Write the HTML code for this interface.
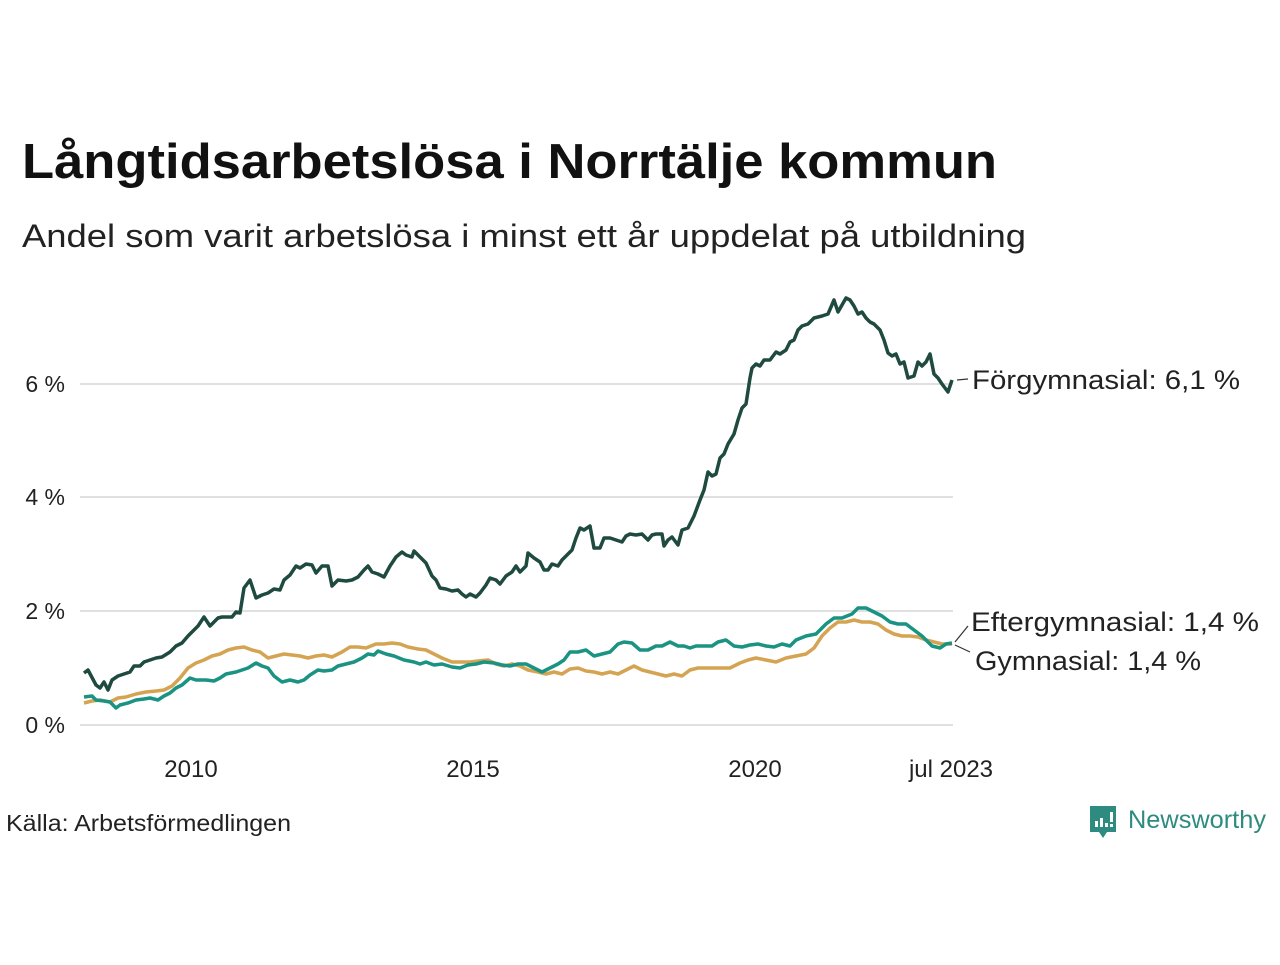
<!DOCTYPE html>
<html><head><meta charset="utf-8"><style>
body{margin:0;background:#fff;width:1280px;height:960px;overflow:hidden;font-family:"Liberation Sans",sans-serif;}
</style></head><body>
<svg width="1280" height="960" xmlns="http://www.w3.org/2000/svg" font-family="Liberation Sans, sans-serif">
<text x="22" y="178" font-size="49" font-weight="bold" fill="#111" textLength="975" lengthAdjust="spacingAndGlyphs">Långtidsarbetslösa i Norrtälje kommun</text>
<text x="22" y="247" font-size="32" fill="#222" textLength="1004" lengthAdjust="spacingAndGlyphs">Andel som varit arbetslösa i minst ett år uppdelat på utbildning</text>
<g stroke="#e0e0e0" stroke-width="2">
<line x1="80" y1="384" x2="953" y2="384"/><line x1="80" y1="497" x2="953" y2="497"/>
<line x1="80" y1="611" x2="953" y2="611"/><line x1="80" y1="725" x2="953" y2="725"/>
</g>
<g font-size="23" fill="#222" text-anchor="end">
<text x="65" y="392">6 %</text><text x="65" y="505">4 %</text><text x="65" y="619">2 %</text><text x="65" y="733">0 %</text>
</g>
<g font-size="24" fill="#222" text-anchor="middle">
<text x="191" y="777">2010</text><text x="473" y="777">2015</text><text x="755" y="777">2020</text><text x="951" y="777">jul 2023</text>
</g>
<g fill="none" stroke-width="3.5" stroke-linejoin="round">
<polyline stroke="#d4a452" points="84,703 92,701 100,700 110,702 118,698 126,697 136,694 146,692 156,691 164,690 172,686 180,678 188,668 196,663 204,660 212,656 220,654 228,650 236,648 244,647 252,650 260,652 268,658 276,656 284,654 292,655 300,656 308,658 316,656 324,655 332,657 342,652 350,647 358,647 366,648 376,644 384,644 392,643 400,644 408,647 418,649 426,650 434,654 442,658 452,662 462,662 470,662 478,661 488,660 496,664 504,666 512,664 520,666 528,670 538,672 546,674 554,672 562,674 570,669 578,668 586,671 594,672 602,674 610,672 618,674 626,670 634,666 642,670 650,672 658,674 666,676 674,674 682,676 690,670 698,668 706,668 714,668 722,668 730,668 740,663 748,660 756,658 766,660 776,662 786,658 796,656 806,654 814,648 822,636 830,628 838,622 846,622 854,620 862,622 870,622 878,624 886,630 894,634 902,636 910,636 918,637 926,640 934,642 942,644 952,644"/>
<polyline stroke="#1a9383" points="84,697 92,696 96,700 104,701 110,702 116,708 120,705 128,703 136,700 144,699 150,698 158,700 164,696 170,693 176,688 182,685 190,678 196,680 206,680 214,681 220,678 226,674 236,672 242,670 248,668 256,663 262,666 268,668 274,676 282,682 290,680 298,682 304,680 310,675 318,670 324,671 332,670 338,666 346,664 354,662 362,658 368,654 374,655 378,651 386,654 394,656 404,660 414,662 420,664 426,662 434,665 442,664 452,667 460,668 468,665 476,664 484,662 494,663 502,665 510,666 518,664 526,664 534,668 542,672 550,668 558,664 564,660 570,652 578,652 586,650 594,656 602,654 610,652 618,644 624,642 632,643 640,650 648,650 656,646 662,646 670,642 678,646 684,646 690,648 696,646 704,646 712,646 718,642 726,640 734,646 742,647 750,645 758,644 766,646 774,647 782,644 790,646 796,640 806,636 816,634 826,624 834,618 842,618 852,614 858,608 866,608 874,612 882,616 890,622 898,624 906,624 914,630 922,636 932,646 940,648 946,644 952,643"/>
<polyline stroke="#1f4a3f" points="84,673 88,670 96,685 100,688 104,682 108,690 112,680 118,676 124,674 130,672 134,666 140,666 144,662 150,660 156,658 162,657 170,652 176,646 182,643 188,636 192,632 198,626 204,617 210,626 214,622 218,618 222,617 232,617 236,612 240,613 244,588 250,580 256,598 262,595 268,593 274,589 280,590 284,580 290,575 296,566 300,568 306,564 312,565 316,573 322,566 328,566 332,586 338,580 346,581 352,580 358,577 364,570 368,566 372,572 378,574 384,577 390,566 396,557 402,552 406,555 412,557 414,551 420,557 426,563 432,576 436,580 440,588 446,589 452,591 458,590 462,594 466,597 470,594 476,597 480,593 486,585 490,578 496,580 500,584 506,576 512,572 516,566 520,572 526,566 528,553 534,558 540,562 544,570 548,570 552,564 558,566 562,560 566,556 572,550 576,538 580,528 584,530 590,526 594,548 600,548 604,538 610,538 616,540 622,542 626,536 630,534 636,535 642,534 648,540 652,535 656,534 662,534 664,546 668,540 672,537 678,545 682,530 688,528 694,516 700,500 704,490 708,472 712,476 716,474 720,458 724,454 728,444 734,434 738,420 742,408 746,404 750,378 752,368 756,364 760,366 764,360 770,360 776,352 780,354 786,350 790,342 794,340 798,330 802,326 808,324 814,318 822,316 828,314 834,300 838,312 842,305 846,298 850,300 854,306 858,314 862,312 866,318 870,322 874,324 880,330 884,340 888,353 892,356 896,354 900,364 904,362 908,378 914,376 918,362 922,366 926,362 930,354 934,374 938,378 942,384 948,392 952,380"/>
</g>
<g stroke="#333" stroke-width="1.2">
<line x1="957" y1="380" x2="968" y2="379"/>
<line x1="955" y1="642" x2="968" y2="626"/>
<line x1="955" y1="645" x2="970" y2="652"/>
</g>
<g font-size="27" fill="#222">
<text x="972" y="389" textLength="268" lengthAdjust="spacingAndGlyphs">Förgymnasial: 6,1 %</text>
<text x="971" y="631" textLength="288" lengthAdjust="spacingAndGlyphs">Eftergymnasial: 1,4 %</text>
<text x="975" y="670" textLength="226" lengthAdjust="spacingAndGlyphs">Gymnasial: 1,4 %</text>
</g>
<text x="6" y="831" font-size="23" fill="#222" textLength="285" lengthAdjust="spacingAndGlyphs">Källa: Arbetsförmedlingen</text>
<g>
<path d="M1090 806 h26 v26 h-9 l-4 6 l-4 -6 h-9 z" fill="#2e8b80"/>
<g fill="#fff"><rect x="1095" y="821" width="3" height="6"/><rect x="1100" y="818" width="3" height="9"/><rect x="1105" y="823" width="3" height="4"/><rect x="1110" y="812" width="3" height="10"/><rect x="1110" y="824" width="3" height="3"/></g>
<text x="1128" y="828" font-size="25" fill="#2e8b80" textLength="138" lengthAdjust="spacingAndGlyphs">Newsworthy</text>
</g>
</svg>
</body></html>
